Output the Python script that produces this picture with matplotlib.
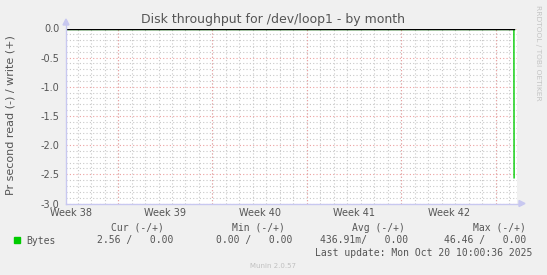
import matplotlib
matplotlib.use("Agg")
import matplotlib.pyplot as plt
import matplotlib.dates as mdates
import numpy as np
import datetime as dt

# ---- data ----
title = "Disk throughput for /dev/loop1 - by month"
ylabel = "Pr second read (-) / write (+)"
x_start = dt.datetime(2025, 9, 17, 3, 30)
x_end = dt.datetime(2025, 10, 20, 13, 30)
week_starts = [dt.datetime(2025, 9, 21), dt.datetime(2025, 9, 28), dt.datetime(2025, 10, 5),
               dt.datetime(2025, 10, 12), dt.datetime(2025, 10, 19)]
week_labels = ["Week 38", "Week 39", "Week 40", "Week 41", "Week 42"]
week_label_times = [dt.datetime(2025, 9, 17, 12), dt.datetime(2025, 9, 24, 12), dt.datetime(2025, 10, 1, 12),
                    dt.datetime(2025, 10, 8, 12), dt.datetime(2025, 10, 15, 12)]
read_times = [dt.datetime(2025, 9, 17, 3, 30), dt.datetime(2025, 10, 20, 8, 0), dt.datetime(2025, 10, 20, 8, 20)]
read_values = [0.0, 0.0, -2.56]
write_times = [dt.datetime(2025, 9, 17, 3, 30), dt.datetime(2025, 10, 20, 8, 20)]
write_values = [0.0, 0.0]
yticks = [0.0, -0.5, -1.0, -1.5, -2.0, -2.5, -3.0]
legend_headers = ["Cur (-/+)", "Min (-/+)", "Avg (-/+)", "Max (-/+)"]
legend_name = "Bytes"
legend_values = ["2.56 /   0.00", "0.00 /   0.00", "436.91m/   0.00", "46.46 /   0.00"]
last_update = "Last update: Mon Oct 20 10:00:36 2025"
footer = "Munin 2.0.57"

W, H = 547, 275
fig = plt.figure(figsize=(W / 100, H / 100), dpi=100, facecolor="#f0f0f0")
L, R, T, B = 66, 517, 28.5, 203.5
ax = fig.add_axes([L / W, 1 - B / H, (R - L) / W, (B - T) / H], facecolor="white")

ax.set_xlim(mdates.date2num(x_start), mdates.date2num(x_end))
ax.set_ylim(-3.0, 0.0)

# grid
minor_c = "#c8c8c8"
major_c = "#eca0a0"
d = x_start.replace(hour=0, minute=0) + dt.timedelta(days=1)
while d < x_end:
    ax.axvline(mdates.date2num(d), color=minor_c, lw=0.8, ls=(0, (1, 2)), zorder=1)
    d += dt.timedelta(days=1)
for ws in week_starts:
    ax.axvline(mdates.date2num(ws), color=major_c, lw=0.8, ls=(0, (1, 2)), zorder=2)
for v in np.arange(-3.0, 0.001, 0.1):
    if abs(round(v * 2) - v * 2) > 1e-6:
        ax.axhline(v, color=minor_c, lw=0.8, ls=(0, (1, 2)), zorder=1)
for v in yticks:
    ax.axhline(v, color=major_c, lw=0.8, ls=(0, (1, 2)), zorder=2)

# data
ax.plot([mdates.date2num(t) for t in write_times], write_values, color="#00cc00", lw=1.0, zorder=3)
ax.plot([mdates.date2num(t) for t in read_times], read_values, color="#00cc00", lw=1.0, zorder=3)
ax.plot([mdates.date2num(read_times[0]), mdates.date2num(read_times[1])], [0, 0], color="black", lw=1.0, zorder=4)

for s in ax.spines.values():
    s.set_visible(False)

ax.set_yticks(yticks)
ax.set_yticklabels(["%.1f" % v for v in yticks])
ax.set_xticks([mdates.date2num(t) for t in week_label_times])
ax.set_xticklabels(week_labels)
ax.tick_params(axis="both", length=0, labelsize=7, labelcolor="#555555")
ax.tick_params(axis="y", pad=4.5)
ax.tick_params(axis="x", pad=3)

# axis lines with arrows
axc = "#c8c8f0"
fig.add_artist(plt.Line2D([L / W, L / W], [1 - B / H, 1 - 21 / H], color=axc, lw=1))
fig.add_artist(plt.Line2D([L / W, 521 / W], [1 - B / H, 1 - B / H], color=axc, lw=1))
fig.add_artist(plt.Polygon([[(L - 3) / W, 1 - 25 / H], [(L + 3) / W, 1 - 25 / H], [L / W, 1 - 19 / H]],
                           closed=True, color=axc, transform=fig.transFigure))
fig.add_artist(plt.Polygon([[519 / W, 1 - (B - 3) / H], [519 / W, 1 - (B + 3) / H], [525 / W, 1 - B / H]],
                           closed=True, color=axc, transform=fig.transFigure))

# texts
txtc = "#555555"
fig.text(273 / W, 1 - 19.5 / H, title, ha="center", va="center", fontsize=9, color=txtc)
fig.text(11 / W, 1 - 115 / H, ylabel, ha="center", va="center", rotation=90, fontsize=8, color=txtc)
fig.text(538 / W, 1 - 5 / H, "RRDTOOL / TOBI OETIKER", ha="center", va="top", rotation=270,
         fontsize=5.4, color="#c4c4c4")

mono = "DejaVu Sans Mono"
hdr_right = [164, 285, 405, 526]
for h, xr in zip(legend_headers, hdr_right):
    fig.text(xr / W, 1 - 228 / H, h, ha="right", va="center", fontsize=7, family=mono, color=txtc)
val_right = [173, 292, 408, 526]
for v, xr in zip(legend_values, val_right):
    fig.text(xr / W, 1 - 240.5 / H, v, ha="right", va="center", fontsize=7, family=mono, color=txtc)
fig.add_artist(plt.Rectangle((14 / W, 1 - 243 / H), 6 / W, 6 / H, color="#00cc00", transform=fig.transFigure))
fig.text(26 / W, 1 - 240.5 / H, legend_name, ha="left", va="center", fontsize=7, family=mono, color=txtc)
fig.text(532 / W, 1 - 253 / H, last_update, ha="right", va="center", fontsize=7, family=mono, color=txtc)
fig.text(273 / W, 1 - 266 / H, footer, ha="center", va="center", fontsize=5, color="#c0c0c0")

fig.savefig("out.png", dpi=100, facecolor=fig.get_facecolor())
